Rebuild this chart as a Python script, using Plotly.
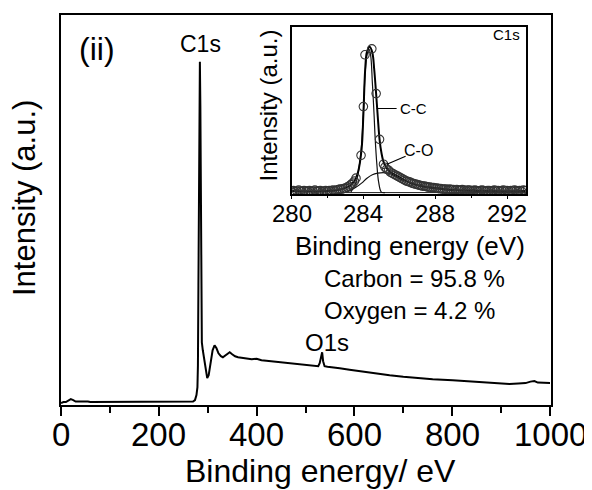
import plotly.graph_objects as go

# ---------------- Main survey spectrum ----------------
survey_energy = [0, 5, 10, 15, 20, 25, 30, 40, 50, 55, 60, 80, 100, 150, 200, 250, 270, 274, 277, 279,
                 280, 281, 282, 283, 284, 285, 286, 287, 288, 290, 293, 296, 299, 302, 306, 310, 314,
                 318, 322, 327, 331, 336, 341, 345, 350, 356, 362, 370, 380, 390, 400, 410, 420, 430,
                 440, 447, 460, 470, 480, 490, 500, 510, 520, 526, 529, 532, 534, 536, 539, 545, 555,
                 570, 590, 611, 630, 650, 672, 700, 733, 760, 801, 830, 856, 880, 900, 917, 935, 950,
                 960, 968, 975, 985, 1000]
survey_intensity = [2, 3, 3, 4.5, 6, 5, 3.5, 3.5, 4, 3.5, 3, 3, 3, 3, 3, 3, 3.5, 5, 10, 18,
                    40, 120, 250, 320, 345, 300, 180, 90, 63, 55, 45, 35, 27, 30, 45, 55, 60,
                    57, 52, 49, 48, 50, 52, 53, 51, 49, 48, 47.5, 47, 46, 46.5, 45, 44.5, 44,
                    43.5, 43, 42, 42, 41, 40.5, 40, 39.5, 39, 39, 42, 50, 53, 44, 39, 38.5, 38,
                    37, 35.5, 34, 33, 31.5, 30, 28.5, 27, 26, 25, 24, 23, 22.5, 22, 21, 21.5, 22,
                    23.5, 24, 22.5, 22, 22]
survey_ticks = [0, 200, 400, 600, 800, 1000]

# ---------------- Inset: C1s high-resolution ----------------
c1s_energy = [280.0, 280.1, 280.2, 280.3, 280.4, 280.5, 280.6, 280.7, 280.8, 280.9,
              281.0, 281.1, 281.2, 281.3, 281.4, 281.5, 281.6, 281.7, 281.8, 281.9,
              282.0, 282.1, 282.2, 282.3, 282.4, 282.5, 282.6, 282.7, 282.8, 282.9,
              283.0, 283.1, 283.2, 283.3, 283.4,
              283.5, 283.59, 283.87, 284.0, 284.09, 284.47, 284.71, 284.9, 285.12,
              285.2, 285.3, 285.4, 285.5, 285.6, 285.7, 285.8, 285.9, 286.0, 286.1,
              286.2, 286.3, 286.4, 286.5, 286.6, 286.7, 286.8, 286.9, 287.0, 287.1,
              287.2, 287.3, 287.4, 287.5, 287.6, 287.7, 287.8, 287.9, 288.0, 288.1,
              288.2, 288.3, 288.4, 288.5, 288.6, 288.7, 288.8, 288.9, 289.0, 289.1,
              289.2, 289.3, 289.4, 289.5, 289.6, 289.7, 289.8, 289.9, 290.0, 290.1,
              290.2, 290.3, 290.4, 290.5, 290.6, 290.7, 290.8, 290.9, 291.0, 291.1,
              291.2, 291.3, 291.4, 291.5, 291.6, 291.7, 291.8, 291.9, 292.0, 292.1,
              292.2, 292.3, 292.4, 292.5, 292.6, 292.7, 292.8, 292.9, 293.0]
c1s_counts = [3, 3.5, 2.5, 3, 4, 3, 2.5, 3.5, 3, 3,
              3.5, 2.5, 3, 4, 3, 3, 3.5, 2.5, 3, 3.5,
              3, 3.5, 3, 4, 3.5, 4, 4.5, 5, 5, 5.5,
              6, 7, 8, 9.5, 11,
              13, 16, 39, 88, 140, 146, 101, 55, 30,
              27, 25, 24, 22, 21, 20, 19, 18, 17, 16,
              15, 14, 13, 12.5, 12, 11, 10.5, 10, 9.5, 9,
              8.5, 8, 8, 7.5, 7, 7, 6.5, 6.5, 6, 6,
              5.5, 5.5, 5, 5, 5, 4.5, 5, 4.5, 4.5, 4,
              4.5, 4, 4, 4.5, 4, 3.5, 4, 4, 3.5, 3.5,
              4, 3.5, 3, 3.5, 4, 3.5, 3, 3.5, 3.5, 3,
              3.5, 4, 3, 3.5, 3, 3.5, 4, 3, 3.5, 3,
              3.5, 3, 4, 3.5, 3, 3.5, 3, 4, 3.5]
inset_ticks = [280, 284, 288, 292]

envelope_energy = [280, 282, 282.8, 283.2, 283.5, 283.7, 283.9, 284.0, 284.1, 284.2, 284.35, 284.5,
                   284.6, 284.7, 284.8, 284.9, 285.0, 285.15, 285.4, 285.7, 286.0, 286.5, 287.0,
                   287.5, 288.0, 289.0, 290.0, 291.0, 293.0]
envelope_counts = [3, 3, 5, 8, 13, 22, 45, 80, 125, 143, 148, 142,
                   126, 103, 78, 55, 42, 31, 24, 20, 17, 12, 9,
                   7, 6, 4, 3.5, 3, 3]

cc_energy = [283.3, 283.6, 283.8, 283.9, 284.0, 284.1, 284.2, 284.3, 284.4, 284.5, 284.6, 284.65,
             284.75, 284.85, 285.0, 285.2]
cc_counts = [2, 12, 32, 50, 82, 122, 140, 146, 140, 112, 78, 58,
             30, 12, 2, 1.5]

co_energy = [283.0, 283.3, 283.6, 283.9, 284.2, 284.5, 284.8, 285.1, 285.4, 285.7, 286.0, 286.4,
             286.8, 287.2, 287.6, 288.0, 289.0, 290.0, 291.0]
co_counts = [2, 4, 7, 11, 16, 19.5, 21, 21.5, 21, 19, 16, 13,
             10, 8, 6.5, 5.5, 4, 3, 2.5]

bg_energy = [283.0, 293.05]
bg_counts = [1.5, 1.5]

FONT = "Liberation Sans, Arial, Helvetica, sans-serif"

fig = go.Figure()

fig.add_trace(go.Scatter(x=survey_energy, y=survey_intensity, mode="lines",
                         line=dict(color="black", width=2), showlegend=False,
                         xaxis="x", yaxis="y"))

# inset traces
fig.add_trace(go.Scatter(x=bg_energy, y=bg_counts, mode="lines",
                         line=dict(color="#222", width=1), showlegend=False,
                         xaxis="x2", yaxis="y2"))
fig.add_trace(go.Scatter(x=co_energy, y=co_counts, mode="lines", line_shape="spline",
                         line=dict(color="#111", width=1.2), showlegend=False,
                         xaxis="x2", yaxis="y2"))
fig.add_trace(go.Scatter(x=cc_energy, y=cc_counts, mode="lines", line_shape="spline",
                         line=dict(color="#111", width=1.2), showlegend=False,
                         xaxis="x2", yaxis="y2"))
fig.add_trace(go.Scatter(x=envelope_energy, y=envelope_counts, mode="lines", line_shape="spline",
                         line=dict(color="black", width=2), showlegend=False,
                         xaxis="x2", yaxis="y2"))
fig.add_trace(go.Scatter(x=c1s_energy, y=c1s_counts, mode="markers",
                         marker=dict(symbol="circle-open", size=8.5, color="#333",
                                     line=dict(width=1.1, color="#333")),
                         showlegend=False, xaxis="x2", yaxis="y2"))

# The page body adds an 8 px offset; margins are set so that the plot lands
# where the reference has it.
OFF = 8
W, H = 592, 490
REF_L, REF_R, REF_T, REF_B = 61, 551, 13, 405   # plot-area edges in the reference picture
L = REF_L - OFF
T = REF_T - OFF
R = W - (REF_R - OFF)
B = H - (REF_B - OFF)
pw, ph = REF_R - REF_L, REF_B - REF_T

def px2paper_x(px):
    return (px - REF_L) / pw

def px2paper_y(py):
    return (REF_B - py) / ph

ix0, ix1 = 291.5, 526
iy0, iy1 = 25, 193

fig.update_layout(
    width=W, height=H,
    margin=dict(l=L, r=R, t=T, b=B),
    paper_bgcolor="white", plot_bgcolor="white",
    font=dict(family=FONT, color="black"),
    xaxis=dict(range=[0, 1002], tickvals=survey_ticks, showticklabels=False,
               ticks="outside", ticklen=9, tickwidth=2, tickcolor="black",
               minor=dict(dtick=100, tick0=0, ticks="outside", ticklen=6, tickwidth=2, tickcolor="black"),
               showline=True, linewidth=2, linecolor="black", mirror=True,
               showgrid=False, zeroline=False),
    yaxis=dict(range=[0, 392], showticklabels=False, ticks="",
               showline=True, linewidth=2, linecolor="black", mirror=True,
               showgrid=False, zeroline=False),
    xaxis2=dict(domain=[px2paper_x(ix0), px2paper_x(ix1)], anchor="y2",
                range=[280, 293.05], tickvals=inset_ticks, showticklabels=False,
                ticks="outside", ticklen=3, tickwidth=1.2, tickcolor="black",
                minor=dict(dtick=2, tick0=280, ticks="outside", ticklen=2, tickwidth=1.2, tickcolor="black"),
                showline=True, linewidth=1.5, linecolor="black", mirror=True,
                showgrid=False, zeroline=False),
    yaxis2=dict(domain=[px2paper_y(iy1), px2paper_y(iy0)], anchor="x2",
                range=[0, 168], showticklabels=False, ticks="",
                showline=True, linewidth=1.5, linecolor="black", mirror=True,
                showgrid=False, zeroline=False),
)

annotations = [
    # axis titles (main)
    dict(text="Binding energy/ eV", xref="paper", yref="paper", x=px2paper_x(320), y=px2paper_y(471),
         xanchor="center", yanchor="middle", showarrow=False, font=dict(size=32)),
    dict(text="Intensity (a.u.)", xref="paper", yref="paper", x=px2paper_x(24), y=px2paper_y(197),
         xanchor="center", yanchor="middle", textangle=-90, showarrow=False, font=dict(size=31)),
    # axis titles (inset)
    dict(text="Binding energy (eV)", xref="paper", yref="paper", x=px2paper_x(410), y=px2paper_y(245),
         xanchor="center", yanchor="middle", showarrow=False, font=dict(size=26)),
    dict(text="Intensity (a.u.)", xref="paper", yref="paper", x=px2paper_x(269), y=px2paper_y(104),
         xanchor="center", yanchor="middle", textangle=-90, showarrow=False, font=dict(size=24)),
    # main labels
    dict(text="(ii)", xref="x", yref="y", x=74.6, y=358, showarrow=False, font=dict(size=32)),
    dict(text="C1s", xref="x", yref="y", x=286, y=363, showarrow=False, font=dict(size=23)),
    dict(text="Carbon = 95.8 %", xref="x", yref="y", x=533, y=127, xanchor="left",
         showarrow=False, font=dict(size=24)),
    dict(text="Oxygen = 4.2 %", xref="x", yref="y", x=533, y=95, xanchor="left",
         showarrow=False, font=dict(size=24)),
    dict(text="O1s", xref="x", yref="y", x=543, y=63, showarrow=False, font=dict(size=24)),
    # inset labels
    dict(text="C1s", xref="x2", yref="y2", x=291.94, y=160, showarrow=False, font=dict(size=15)),
    dict(text="C-C", xref="x2", yref="y2", x=285.93, y=86, xanchor="left", showarrow=False,
         font=dict(size=15)),
    dict(text="C-O", xref="x2", yref="y2", x=287.04, y=44, showarrow=False, font=dict(size=16)),
]
# main x tick labels
for v in survey_ticks:
    annotations.append(dict(text=str(v), xref="x", yref="paper", x=v, y=px2paper_y(435),
                            xanchor="center", yanchor="middle", showarrow=False,
                            font=dict(size=33)))
# inset x tick labels
for v in inset_ticks:
    annotations.append(dict(text=str(v), xref="x2", yref="paper", x=v, y=px2paper_y(213),
                            xanchor="center", yanchor="middle", showarrow=False,
                            font=dict(size=24)))
fig.update_layout(annotations=annotations)

fig.update_layout(shapes=[
    dict(type="line", xref="x2", yref="y2", x0=284.74, y0=86, x1=285.85, y1=86,
         line=dict(color="black", width=1.2)),
    dict(type="line", xref="x2", yref="y2", x0=285.31, y0=30, x1=286.35, y1=38,
         line=dict(color="black", width=1.2)),
])

fig.write_html("out.html")
